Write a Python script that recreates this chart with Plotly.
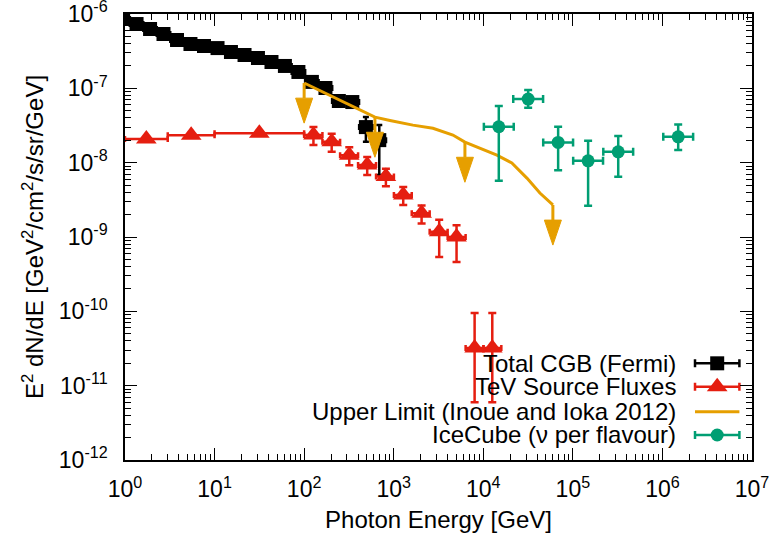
import plotly.graph_objects as go

# ---------------- data ----------------
# Total CGB (Fermi)
fermi_E = [0.953, 1.346, 1.905, 2.69, 3.81, 5.38, 7.62, 10.79, 15.24, 21.6,
           30.5, 43.2, 61.0, 86.3, 122.0, 173.0, 244.0, 345.0, 489.0, 690.0]
fermi_F = [8.57e-7, 7.33e-7, 6.28e-7, 5.38e-7, 4.47e-7, 3.95e-7, 3.71e-7, 3.48e-7,
           3.08e-7, 2.81e-7, 2.56e-7, 2.26e-7, 2.00e-7, 1.66e-7, 1.22e-7, 1.01e-7,
           6.75e-8, 6.54e-8, 3.01e-8, 2.01e-8]
fermi_err_hi = [3e-8, 2.5e-8, 2e-8, 1.6e-8, 1.3e-8, 1.1e-8, 1e-8, 9e-9, 8e-9, 7.5e-9,
                7e-9, 7e-9, 7e-9, 7e-9, 7e-9, 8e-9, 8e-9, 9e-9, 1.1e-8, 1.2e-8]
fermi_err_lo = [3e-8, 2.5e-8, 2e-8, 1.6e-8, 1.3e-8, 1.1e-8, 1e-8, 9e-9, 8e-9, 7.5e-9,
                7e-9, 7e-9, 7e-9, 7e-9, 7e-9, 8e-9, 8e-9, 9e-9, 1.1e-8, 1.33e-8]
fermi_bin_ratio = 1.189  # half-bin width (log) as ratio

# TeV source fluxes
tev_E = [1.73, 5.48, 31.6, 127, 203, 319, 506, 818, 1277, 2048, 3220, 5030, 8000, 12600]
tev_E_lo = [1.0, 3.0, 10.0, 100, 160, 252, 400, 635, 1005, 1590, 2520, 4000, 6350, 10050]
tev_E_hi = [3.0, 10.0, 100.0, 160, 252, 400, 635, 1005, 1590, 2520, 4000, 6350, 10050, 15900]
tev_F = [2.08e-8, 2.33e-8, 2.48e-8, 2.35e-8, 1.91e-8, 1.26e-8, 9.3e-9, 6.5e-9,
         3.67e-9, 2.08e-9, 1.18e-9, 1.0e-9, 3.2e-11, 3.2e-11]
tev_F_hi = [2.18e-8, 2.44e-8, 2.6e-8, 3.01e-8, 2.45e-8, 1.61e-8, 1.19e-8, 8.3e-9,
            4.7e-9, 2.66e-9, 1.70e-9, 1.44e-9, 9.5e-11, 9.5e-11]
tev_F_lo = [1.98e-8, 2.22e-8, 2.36e-8, 1.73e-8, 1.40e-8, 9.2e-9, 6.8e-9, 4.8e-9,
            2.7e-9, 1.52e-9, 5.4e-10, 4.6e-10, 6.0e-12, 6.0e-12]

# Upper limit (Inoue and Ioka 2012)
ul_E = [100, 194, 388, 617, 908, 1637, 2742, 4581, 6237, 9162, 14190, 20840, 30690, 42850, 59840]
ul_F = [1.18e-7, 8.1e-8, 5.4e-8, 4.1e-8, 3.7e-8, 3.2e-8, 2.9e-8, 2.35e-8, 1.89e-8,
        1.57e-8, 1.26e-8, 9.9e-9, 6.2e-9, 3.9e-9, 2.7e-9]
ul_arrow_E = [100, 617, 6237, 59840]
ul_arrow_F = [1.18e-7, 4.1e-8, 1.89e-8, 2.7e-9]

# IceCube (nu per flavour)
ic_E = [14900, 31700, 68500, 148000, 321000, 1.5e6]
ic_F = [3.04e-8, 7.18e-8, 1.87e-8, 1.06e-8, 1.40e-8, 2.23e-8]
ic_F_hi = [5.78e-8, 9.5e-8, 3.04e-8, 1.97e-8, 2.28e-8, 3.27e-8]
ic_F_lo = [5.7e-9, 5.5e-8, 7.9e-9, 2.63e-9, 6.45e-9, 1.48e-8]
ic_bin_ratio = 10 ** (1 / 6)

x_tick_exp = [0, 1, 2, 3, 4, 5, 6, 7]
y_tick_exp = [-12, -11, -10, -9, -8, -7, -6]

legend_labels = ["Total CGB (Fermi)", "TeV Source Fluxes",
                 "Upper Limit (Inoue and Ioka 2012)", "IceCube (\u03bd per flavour)"]

# ---------------- styles ----------------
BLACK = "#000000"
RED = "#e51e10"
ORANGE = "#e69f00"
GREEN = "#009e73"
FONT = "Liberation Sans"

fig = go.Figure()

# Fermi
fig.add_trace(go.Scatter(
    x=fermi_E, y=fermi_F, mode="markers",
    marker=dict(symbol="square", size=14, color=BLACK),
    error_x=dict(type="data", symmetric=False,
                 array=[e * (fermi_bin_ratio - 1) for e in fermi_E],
                 arrayminus=[e * (1 - 1 / fermi_bin_ratio) for e in fermi_E],
                 color=BLACK, thickness=2.5, width=3),
    error_y=dict(type="data", symmetric=False, array=fermi_err_hi, arrayminus=fermi_err_lo,
                 color=BLACK, thickness=2.5, width=3),
    showlegend=False))

# TeV
fig.add_trace(go.Scatter(
    x=tev_E, y=tev_F, mode="markers",
    marker=dict(symbol="triangle-up", size=18, color=RED),
    error_x=dict(type="data", symmetric=False,
                 array=[h - e for h, e in zip(tev_E_hi, tev_E)],
                 arrayminus=[e - l for e, l in zip(tev_E, tev_E_lo)],
                 color=RED, thickness=2.5, width=3),
    error_y=dict(type="data", symmetric=False,
                 array=[h - f for h, f in zip(tev_F_hi, tev_F)],
                 arrayminus=[f - l for f, l in zip(tev_F, tev_F_lo)],
                 color=RED, thickness=2.5, width=4),
    showlegend=False))

# Upper limit curve
fig.add_trace(go.Scatter(x=ul_E, y=ul_F, mode="lines",
                         line=dict(color=ORANGE, width=3), showlegend=False))

# arrows (shaft + head) computed from arrow data points
ARROW_DEC = 0.54      # total arrow length in decades of y
HEAD_DEC = 0.336      # head length in decades of y
HEAD_HALF_X = 0.095   # head half width in decades of x
sx, sy, hx, hy = [], [], [], []
for e, f in zip(ul_arrow_E, ul_arrow_F):
    tip = f * 10 ** (-ARROW_DEC)
    head_top = tip * 10 ** HEAD_DEC
    sx += [e, e, None]
    sy += [f, head_top, None]
    hx += [e * 10 ** (-HEAD_HALF_X), e * 10 ** HEAD_HALF_X, e, e * 10 ** (-HEAD_HALF_X), None]
    hy += [head_top, head_top, tip, head_top, None]
fig.add_trace(go.Scatter(x=sx, y=sy, mode="lines", line=dict(color=ORANGE, width=3),
                         showlegend=False))
fig.add_trace(go.Scatter(x=hx, y=hy, mode="lines", fill="toself", fillcolor=ORANGE,
                         line=dict(color=ORANGE, width=1), showlegend=False))

# IceCube
fig.add_trace(go.Scatter(
    x=ic_E, y=ic_F, mode="markers",
    marker=dict(symbol="circle", size=13, color=GREEN),
    error_x=dict(type="data", symmetric=False,
                 array=[e * (ic_bin_ratio - 1) for e in ic_E],
                 arrayminus=[e * (1 - 1 / ic_bin_ratio) for e in ic_E],
                 color=GREEN, thickness=2.5, width=4),
    error_y=dict(type="data", symmetric=False,
                 array=[h - f for h, f in zip(ic_F_hi, ic_F)],
                 arrayminus=[f - l for f, l in zip(ic_F, ic_F_lo)],
                 color=GREEN, thickness=2.5, width=4),
    showlegend=False))

# ---------------- custom legend (text left, sample right) ----------------
leg_rows = [0.2168, 0.1643, 0.1083, 0.0561]
leg_text_x = 0.8824
leg_sample_x = 0.9445
leg_half = 0.0354
leg_styles = [(BLACK, "square", 14), (RED, "triangle-up", 18), (ORANGE, None, 0), (GREEN, "circle", 13)]
for lab, yy, (col, sym, sz) in zip(legend_labels, leg_rows, leg_styles):
    fig.add_annotation(x=leg_text_x, y=yy, xref="paper", yref="paper", text=lab,
                       showarrow=False, xanchor="right", yanchor="middle",
                       font=dict(family=FONT, size=24, color="black"))
    if sym is None:
        fig.add_trace(go.Scatter(x=[leg_sample_x - leg_half, leg_sample_x + leg_half], y=[yy, yy],
                                 mode="lines", line=dict(color=col, width=3),
                                 xaxis="x2", yaxis="y2", showlegend=False))
    else:
        fig.add_trace(go.Scatter(x=[leg_sample_x], y=[yy], mode="markers",
                                 marker=dict(symbol=sym, size=sz, color=col),
                                 error_x=dict(type="constant", value=leg_half, color=col,
                                              thickness=2.5, width=4),
                                 xaxis="x2", yaxis="y2", showlegend=False))

minor_x = [k * 10 ** n for n in range(0, 7) for k in range(2, 10)]
minor_y = [k * 10.0 ** n for n in range(-12, -6) for k in range(2, 10)]

axis_common = dict(type="log", showgrid=False, zeroline=False, showline=True,
                   linecolor="black", linewidth=1.5, mirror="allticks",
                   ticks="inside", ticklen=12, tickwidth=1, tickcolor="black",
                   tickfont=dict(family=FONT, size=23, color="black"),
                   tickmode="array", automargin=False, ticklabeloverflow="allow")

fig.update_layout(
    width=771, height=540,
    margin=dict(l=125, r=19, t=14, b=80),
    paper_bgcolor="white", plot_bgcolor="white",
    xaxis=dict(**axis_common, range=[0, 7],
               tickvals=[10 ** e for e in x_tick_exp],
               ticktext=[f"10<sup>{e}</sup>" for e in x_tick_exp],
               minor=dict(tickmode="array", tickvals=minor_x, ticks="inside", ticklen=6,
                          tickcolor="black", showgrid=False),
               ticklabelstandoff=8,
               title=dict(text="Photon Energy [GeV]", font=dict(family=FONT, size=24, color="black"),
                          standoff=10)),
    yaxis=dict(**axis_common, range=[-12, -6],
               tickvals=[10.0 ** e for e in y_tick_exp],
               ticktext=[f"10<sup>{e}</sup>" for e in y_tick_exp],
               minor=dict(tickmode="array", tickvals=minor_y, ticks="inside", ticklen=6,
                          tickcolor="black", showgrid=False),
               ticklabelstandoff=11,
               title=dict(text="E<sup>2</sup> dN/dE [GeV<sup>2</sup>/cm<sup>2</sup>/s/sr/GeV]",
                          font=dict(family=FONT, size=24, color="black"), standoff=8)),
    xaxis2=dict(overlaying="x", range=[0, 1], visible=False, fixedrange=True),
    yaxis2=dict(overlaying="y", range=[0, 1], visible=False, fixedrange=True),
)

fig.write_html("out.html", config={"displayModeBar": False},
               post_script="document.body.style.margin='0px';")
